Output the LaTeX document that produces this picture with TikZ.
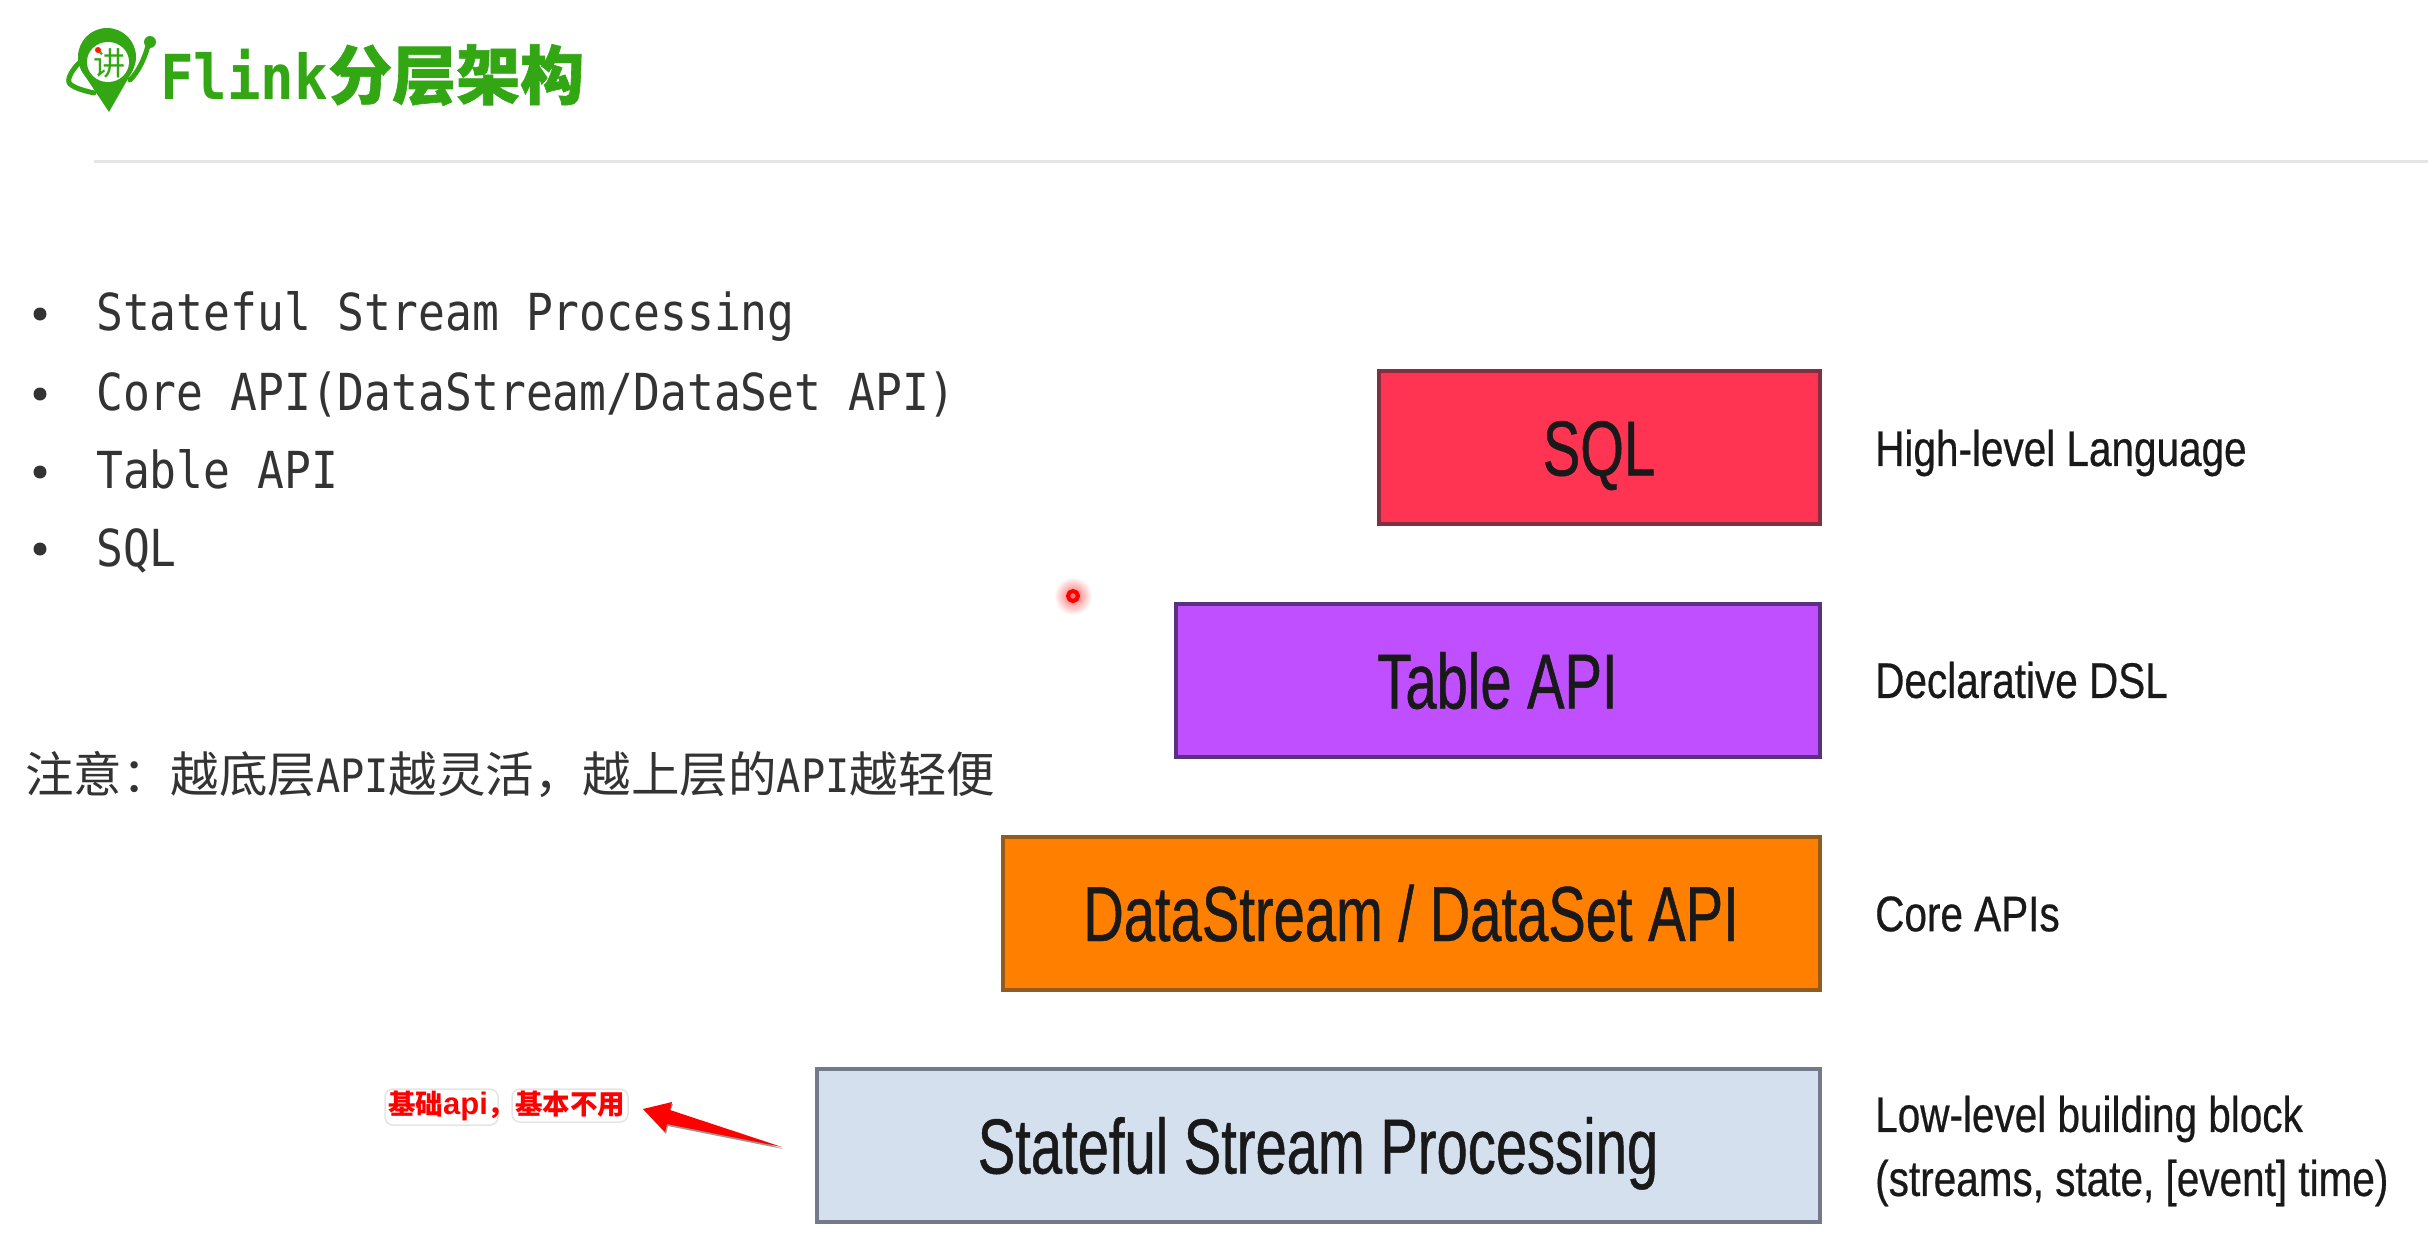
\documentclass[tikz,border=0pt]{standalone}
\usepackage{fontspec}
\setmainfont{Liberation Sans}
\newfontfamily\cjkfont{Noto Sans CJK SC}
\newfontfamily\titlecjk[FakeBold=1]{Noto Sans CJK SC}
\newfontfamily\monofont[FakeStretch=0.875]{DejaVu Sans Mono}
\newfontfamily\boxfont[FakeStretch=0.72,FakeBold=0.6]{Liberation Sans}
\newfontfamily\sidefont[FakeStretch=0.81,FakeBold=0.5]{Liberation Sans}
\newfontfamily\titlemono[FakeStretch=0.9]{DejaVu Sans Mono}
\definecolor{flinkgreen}{HTML}{33A614}
\definecolor{textgray}{HTML}{333333}
\definecolor{sqlfill}{HTML}{FF3352}
\definecolor{sqledge}{HTML}{80303F}
\definecolor{tablefill}{HTML}{BF4FFF}
\definecolor{tableedge}{HTML}{5A3180}
\definecolor{datafill}{HTML}{FF8000}
\definecolor{dataedge}{HTML}{935C1C}
\definecolor{statefill}{HTML}{D5E0EF}
\definecolor{stateedge}{HTML}{737A8A}
\tikzset{
  tier/.style={draw=#1,line width=4pt,minimum height=153pt,inner sep=0pt,text height=56pt,text depth=0pt,font=\boxfont\fontsize{78}{78}\selectfont,text=black!90},
  sidelabel/.style={anchor=west,inner sep=0pt,align=left,text=black!90,font=\sidefont\fontsize{50}{64}\selectfont},
  itemtext/.style={anchor=base west,inner sep=0pt,text=textgray,font=\monofont\fontsize{51}{51}\selectfont},
  bulletdot/.style={circle,fill=textgray,inner sep=0pt,minimum size=13pt}
}
\begin{document}
\begin{tikzpicture}[x=1pt,y=-1pt]
\useasboundingbox (0,0) rectangle (2428,1250);
\fill[white] (0,0) rectangle (2428,1250);
% logo
\fill[flinkgreen] (107,57) circle (29);
\fill[flinkgreen] (109,112) -- (81,70) -- (133,70) -- cycle;
\draw[flinkgreen,line width=5pt,line cap=round] (79,63) .. controls (72,70) and (66,80) .. (70,84) .. controls (76,89) and (86,91) .. (94,93);
\draw[flinkgreen,line width=5pt,line cap=round] (130,80) .. controls (138,72) and (144,60) .. (148,46);
\fill[flinkgreen] (150,42) circle (6);
\fill[white] (108,62) ellipse (21 and 20);
\node[inner sep=0pt,text=flinkgreen,font=\cjkfont\fontsize{32}{32}\selectfont] (logochar) at (109,63) {讲};
\fill[red!80!orange] (98,50) circle (3);
% title
\node[anchor=base west,inner sep=0pt,text=flinkgreen,font=\titlemono\bfseries\fontsize{62}{62}\selectfont] (title) at (160,99) {Flink{\titlecjk\fontsize{64}{64}\selectfont 分层架构}};
\draw[draw=black!10,line width=3pt] (94,161) -- (2428,161);
% bullets
\node[bulletdot] (b1) at (40,314) {};
\node[bulletdot] (b2) at (40,394) {};
\node[bulletdot] (b3) at (40,472) {};
\node[bulletdot] (b4) at (40,549) {};
\node[itemtext] (t1) at (96,330.5) {Stateful Stream Processing};
\node[itemtext] (t2) at (96,410) {Core API(DataStream/DataSet API)};
\node[itemtext] (t3) at (96,488) {Table API};
\node[itemtext] (t4) at (96,566) {SQL};
\node[anchor=west,inner sep=0pt,text=textgray,font=\cjkfont\fontsize{48.5}{48.5}\selectfont] (note) at (25,774) {注意：越底层{\monofont\fontsize{46}{46}\selectfont API}越灵活，越上层的{\monofont\fontsize{46}{46}\selectfont API}越轻便};
% tiers
\node[tier=sqledge,fill=sqlfill,minimum width=441pt] (sql) at (1599,447.5) {SQL};
\node[tier=tableedge,fill=tablefill,minimum width=644pt] (table) at (1497.5,680.5) {Table API};
\node[tier=dataedge,fill=datafill,minimum width=817pt] (data) at (1411,913) {DataStream / DataSet API};
\node[tier=stateedge,fill=statefill,minimum width=1003pt] (state) at (1318,1145.5) {Stateful Stream Processing};
\node[sidelabel] (l1) at (1875,453) {High-level Language};
\node[sidelabel] (l2) at (1875,680) {Declarative DSL};
\node[sidelabel] (l3) at (1875,914) {Core APIs};
\node[sidelabel] (l4) at (1875,1151) {Low-level building block\\(streams, state, [event] time)};
% callout
\fill[white,draw=black!10,line width=1.5pt,rounded corners=8pt] (385,1089) rectangle (498,1125);
\fill[white,draw=black!10,line width=1.5pt,rounded corners=8pt] (512,1089) rectangle (628,1122);
\node[inner sep=0pt,anchor=west,text=red,font=\cjkfont\bfseries\fontsize{27.5}{27.5}\selectfont] (note2) at (388,1106) {基础{\rmfamily\bfseries\fontsize{31}{31}\selectfont api}，基本不用};
% arrow
\coordinate (tail) at (782,1147);
\coordinate (tip) at (643,1109);
\fill[black!40] (783,1149) -- (670,1112) -- (673,1104) -- (644,1110) -- (666,1134) -- (668,1126) -- cycle;
\fill[red] (tail) -- (670,1110) -- (672,1102) -- (tip) -- (665,1132) -- (667,1124) -- cycle;
% pointer
\shade[inner color=red!60,middle color=red!35,outer color=white] (1073,596) circle (19);
\draw[red,line width=4pt] (1073,596) circle (5);
\end{tikzpicture}
\end{document}
